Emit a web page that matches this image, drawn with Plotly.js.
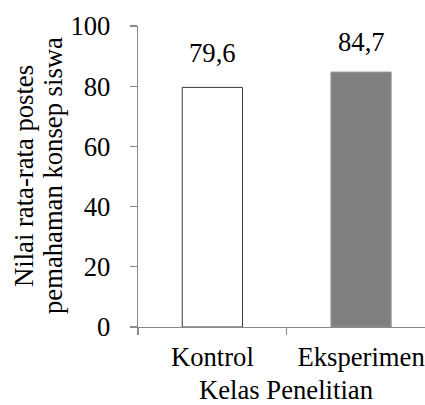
<!DOCTYPE html>
<html>
<head>
<meta charset="utf-8">
<script src="https://cdn.plot.ly/plotly-3.0.1.min.js"></script>
<style>html,body{margin:0;padding:0;overflow:hidden;background:#fff}</style>
</head>
<body>
<div id="chart" style="width:425px;height:405px"></div>
<script>
const categories = ["Kontrol", "Eksperimen"];
const values = [79.6, 84.7];
const valueLabels = ["79,6", "84,7"];
const yTicks = [0, 20, 40, 60, 80, 100];
const yTitleLines = ["Nilai rata-rata postes", "pemahaman konsep siswa"];
const xTitle = "Kelas Penelitian";

const W = 425, H = 405;
const M = {l: 138, r: 0, t: 26, b: 78};
const PW = W - M.l - M.r, PH = H - M.t - M.b;
const px2x = p => (p - M.l) / PW;
const py2y = p => (H - M.b - p) / PH;

const font = {family: "Liberation Serif", size: 26.67, color: "#000"};
const axisGray = "#898989";

const trace = {
  type: "bar",
  x: categories,
  y: values,
  width: 0.405,
  marker: {
    color: ["#ffffff", "#808080"],
    line: {color: ["#3a3a3a", "#9a9a9a"], width: 1}
  },
  hoverinfo: "none"
};

const labelShift = [17, 13];
const annotations = categories.map((c, i) => ({
  x: c, y: values[i], xref: "x", yref: "y",
  text: valueLabels[i], showarrow: false,
  yanchor: "bottom", yshift: labelShift[i], font: font
}));

const yTitleX = [24, 53];
yTitleLines.forEach((t, i) => annotations.push({
  xref: "paper", yref: "paper",
  x: px2x(yTitleX[i]), y: py2y(176),
  xanchor: "center", yanchor: "middle",
  text: t, textangle: -90, showarrow: false, font: font
}));
annotations.push({
  xref: "paper", yref: "paper",
  x: px2x(286), y: py2y(390),
  xanchor: "center", yanchor: "middle",
  text: xTitle, showarrow: false, font: font
});

const layout = {
  width: W, height: H,
  margin: M,
  paper_bgcolor: "#fff", plot_bgcolor: "#fff",
  font: font,
  showlegend: false,
  xaxis: {
    type: "category",
    range: [-0.5, 1.43],
    showline: true, linecolor: axisGray, linewidth: 1.3,
    ticks: "outside", tickson: "boundaries", ticklen: 7, tickcolor: axisGray, tickwidth: 1.3,
    ticklabelstandoff: 6,
    showgrid: false, zeroline: false,
    tickfont: font,
    automargin: false, fixedrange: true
  },
  yaxis: {
    range: [0, 100],
    tickvals: yTicks,
    showline: true, linecolor: axisGray, linewidth: 1.3,
    ticks: "outside", ticklen: 7, tickcolor: axisGray, tickwidth: 1.3,
    ticklabelstandoff: 14,
    showgrid: false, zeroline: false,
    tickfont: font,
    automargin: false, fixedrange: true
  },
  annotations: annotations
};

Plotly.newPlot("chart", [trace], layout, {staticPlot: true, displayModeBar: false});
</script>
</body>
</html>
